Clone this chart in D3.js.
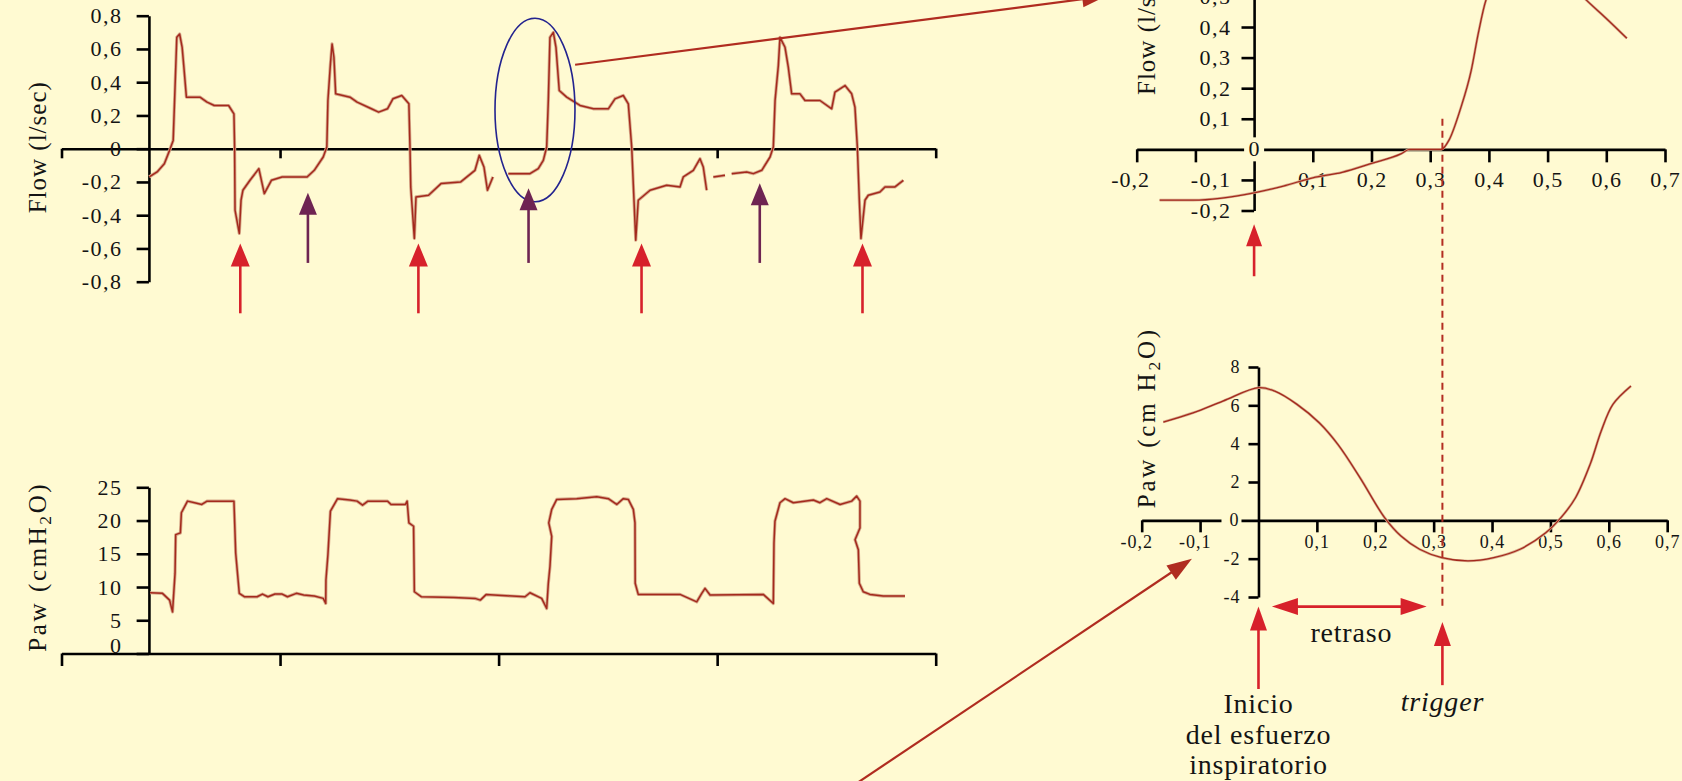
<!DOCTYPE html>
<html>
<head>
<meta charset="utf-8">
<script src="https://cdn.jsdelivr.net/npm/d3@7"></script>
<style>
  body { margin: 0; background: #fffad2; }
  svg { display: block; }
</style>
</head>
<body>
<script>
// curvas (tiempo en s)
const flowTime = [0.803, 0.875, 0.941, 0.989, 1.022, 1.039, 1.055, 1.081, 1.104, 1.120, 1.143, 1.267, 1.332, 1.398, 1.529, 1.578, 1.584, 1.588, 1.627, 1.643, 1.660, 1.725, 1.806, 1.856, 1.921, 2.018, 2.247, 2.313, 2.395, 2.428, 2.438, 2.461, 2.476, 2.493, 2.509, 2.640, 2.705, 2.836, 2.902, 2.983, 3.033, 3.114, 3.179, 3.189, 3.196, 3.229, 3.244, 3.359, 3.473, 3.653, 3.784, 3.823, 3.866, 3.898, 3.948,
  4.0,
  4.089, 4.287, 4.363, 4.409, 4.440, 4.455, 4.470, 4.501, 4.525, 4.555, 4.623, 4.745, 4.867, 5.004, 5.065, 5.141, 5.187, 5.218, 5.239, 5.255, 5.278, 5.386, 5.538, 5.660, 5.690, 5.782, 5.843, 5.873, 5.904,
  5.93, 5.965, 6.072, 6.10,
  6.133, 6.270, 6.331, 6.408, 6.484, 6.514, 6.530, 6.560, 6.575, 6.621, 6.651, 6.682, 6.758, 6.804, 6.941, 7.048, 7.078, 7.170, 7.231, 7.261, 7.283, 7.301, 7.316, 7.353, 7.383, 7.490, 7.536, 7.627, 7.704];
const flowValue = [-0.17, -0.14, -0.09, -0.01, 0.05, 0.37, 0.67, 0.69, 0.61, 0.49, 0.31, 0.31, 0.28, 0.26, 0.26, 0.21, 0.01, -0.37, -0.51, -0.31, -0.25, -0.19, -0.12, -0.27, -0.19, -0.17, -0.17, -0.13, -0.05, 0.01, 0.29, 0.51, 0.63, 0.55, 0.33, 0.31, 0.28, 0.24, 0.22, 0.24, 0.30, 0.32, 0.27, 0.01, -0.23, -0.54, -0.29, -0.28, -0.21, -0.20, -0.13, -0.04, -0.11, -0.25, -0.17,
  null,
  -0.15, -0.15, -0.12, -0.07, 0.01, 0.29, 0.67, 0.70, 0.61, 0.35, 0.31, 0.26, 0.24, 0.24, 0.30, 0.32, 0.27, 0.01, -0.31, -0.55, -0.31, -0.25, -0.22, -0.23, -0.17, -0.13, -0.06, -0.11, -0.25,
  null, -0.17, -0.16, null,
  -0.15, -0.14, -0.15, -0.13, -0.05, 0.01, 0.29, 0.50, 0.67, 0.61, 0.49, 0.33, 0.33, 0.29, 0.29, 0.24, 0.34, 0.38, 0.33, 0.25, 0.01, -0.31, -0.54, -0.31, -0.28, -0.26, -0.23, -0.23, -0.19];

const pawTime = [0.810, 0.924, 0.989, 1.016, 1.039, 1.045, 1.088, 1.097, 1.153, 1.218, 1.284, 1.332, 1.578, 1.594, 1.627, 1.676, 1.790, 1.839, 1.889, 1.954, 2.019, 2.068, 2.150, 2.216, 2.313, 2.395, 2.418, 2.420, 2.438, 2.461, 2.526, 2.640, 2.705, 2.755, 2.804, 2.983, 3.016, 3.147, 3.163, 3.179, 3.222, 3.229, 3.294, 3.588, 3.784, 3.833, 3.885, 4.242, 4.287, 4.394, 4.440, 4.455, 4.470, 4.486, 4.459, 4.486, 4.532, 4.715, 4.898, 5.004, 5.081, 5.141, 5.187, 5.233, 5.248, 5.250, 5.278, 5.660, 5.813, 5.859, 5.889, 5.935, 6.422, 6.514, 6.520, 6.529, 6.575, 6.621, 6.697, 6.880, 6.941, 7.003, 7.125, 7.231, 7.277, 7.307, 7.307, 7.262, 7.292, 7.301, 7.337, 7.399, 7.520, 7.719];
const pawValue = [9.14, 9.05, 8.03, 6.26, 12.08, 17.88, 18.14, 21.17, 22.92, 22.68, 22.42, 22.92, 22.92, 15.11, 9.05, 8.53, 8.53, 8.94, 8.53, 8.94, 8.94, 8.53, 9.05, 8.79, 8.64, 8.29, 7.53, 11.06, 14.85, 21.41, 23.29, 23.08, 22.92, 22.32, 22.92, 22.92, 22.42, 22.42, 22.92, 19.65, 19.14, 9.29, 8.53, 8.44, 8.29, 8.03, 8.86, 8.53, 9.14, 8.29, 6.77, 10.56, 13.08, 17.62, 19.65, 21.67, 23.18, 23.29, 23.59, 23.29, 22.42, 23.29, 23.18, 21.67, 19.65, 10.56, 8.89, 8.89, 7.77, 9.05, 9.80, 8.79, 8.89, 7.53, 16.62, 19.89, 22.68, 23.29, 22.68, 23.08, 22.68, 23.29, 22.42, 22.92, 23.68, 22.92, 18.89, 17.12, 15.61, 10.56, 9.29, 8.89, 8.64, 8.64];

const zoomFlowTime = [-0.161, -0.104, 0, 0.05, 0.1, 0.15, 0.2, 0.25, 0.265, 0.319, 0.332, 0.351, 0.370, 0.382, 0.395, 0.42, 0.45, 0.48, 0.52, 0.566, 0.60, 0.635];
const zoomFlowValue = [-0.166, -0.166, -0.142, -0.12, -0.093, -0.075, -0.046, -0.015, 0, 0, 0.03, 0.129, 0.259, 0.38, 0.488, 0.56, 0.60, 0.61, 0.58, 0.488, 0.428, 0.363];

const zoomPawTime = [-0.163, -0.112, -0.061, 0, 0.028, 0.066, 0.104, 0.136, 0.174, 0.216, 0.244, 0.276, 0.314, 0.359, 0.403, 0.448, 0.492, 0.518, 0.543, 0.568, 0.587, 0.607, 0.638];
const zoomPawValue = [5.13, 5.61, 6.22, 6.92, 6.74, 6.05, 5.09, 3.96, 2.22, 0.14, -0.82, -1.51, -1.95, -2.12, -1.95, -1.51, -0.65, 0.14, 1.18, 2.92, 4.66, 6.05, 7.01];

const redArrowTimes = [1.636, 3.266, 5.308, 7.330];
const purpleArrowTimes = [2.255, 4.274, 6.390];
const purpleArrowTips = [-0.265, -0.238, -0.208];
const ellipseCenter = [4.333, 0.233];
const ellipseRadius = [0.366, 0.552];
const effortTime = 0;
const triggerTime = 0.315;

const flowTicks = [-0.8, -0.6, -0.4, -0.2, 0, 0.2, 0.4, 0.6, 0.8];
const pawTicks = [0, 5, 10, 15, 20, 25];
const timeTicksTop = [0, 2, 6, 8];
const timeTicksBottom = [0, 2, 4, 6, 8];
const zoomTimeTicks = [-0.2, -0.1, 0.1, 0.2, 0.3, 0.4, 0.5, 0.6, 0.7];
const zoomFlowTicks = [-0.2, -0.1, 0.1, 0.2, 0.3, 0.4, 0.5];
const zoomPawTicks = [-4, -2, 2, 4, 6, 8];

const W = 1682, H = 781;
const bg = "#fffad2";
const serif = "'Liberation Serif', 'DejaVu Serif', serif";
const waveDark = "#a3291d", waveLight = "#d8ab8c";
const red = "#d7212b", purple = "#6e2452", leader = "#b02c20";

const fmt = d => d === 0 ? "0" : d.toFixed(1).replace(".", ",");

const svg = d3.select("body").append("svg")
  .attr("width", W)
  .attr("height", H);

svg.append("rect").attr("width", W).attr("height", H).attr("fill", bg);

const xTime = d3.scaleLinear().domain([0, 8]).range([61.5, 935.7]);
const yFlow = d3.scaleLinear().domain([-0.8, 0.8]).range([281.7, 15.7]);
const yPaw = d3.scaleLinear().domain([0, 25]).range([653.5, 487.3]);
const xZoomF = d3.scaleLinear().domain([-0.2, 0.7]).range([1136.7, 1665]);
const yZoomF = d3.scaleLinear().domain([-0.2, 0.55]).range([210.5, -18.85]);
const xZoomP = d3.scaleLinear().domain([-0.2, 0.7]).range([1141.7, 1667.2]);
const yZoomP = d3.scaleLinear().domain([-4, 8]).range([597, 367]);

const axisX0 = xTime(0.8);

function styleAxis(g, size, spacing) {
  g.attr("font-family", serif).attr("font-size", size);
  g.selectAll("path, line").attr("stroke", "#000").attr("stroke-width", 2.6);
  g.selectAll("text").attr("fill", "#141414").attr("letter-spacing", spacing);
}

// ---- flujo (arriba izquierda)
const gFx = svg.append("g")
  .attr("transform", "translate(0," + yFlow(0) + ")")
  .call(d3.axisBottom(xTime).tickValues(timeTicksTop).tickSize(9.6).tickSizeOuter(0).tickFormat(""));
styleAxis(gFx, 22, 1);

const gFy = svg.append("g")
  .attr("transform", "translate(" + axisX0 + ",0)")
  .call(d3.axisLeft(yFlow).tickValues(flowTicks).tickSize(12.3).tickSizeOuter(0).tickPadding(14).tickFormat(fmt));
styleAxis(gFy, 22, 1.5);

// ---- presion (abajo izquierda)
const gPx = svg.append("g")
  .attr("transform", "translate(0," + yPaw(0) + ")")
  .call(d3.axisBottom(xTime).tickValues(timeTicksBottom).tickSize(12.5).tickSizeOuter(0).tickFormat(""));
styleAxis(gPx, 22, 1);

const gPy = svg.append("g")
  .attr("transform", "translate(" + axisX0 + ",0)")
  .call(d3.axisLeft(yPaw).tickValues(pawTicks).tickSize(12.3).tickSizeOuter(0).tickPadding(14).tickFormat(d => String(d)));
styleAxis(gPy, 22, 1.5);
gPy.selectAll(".tick text").filter(d => d === 0).attr("y", -8);

// ---- flujo ampliado (arriba derecha)
const gZFx = svg.append("g")
  .attr("transform", "translate(0," + yZoomF(0) + ")")
  .call(d3.axisBottom(xZoomF).tickValues(zoomTimeTicks).tickSize(13).tickSizeOuter(0).tickPadding(9)
    .tickFormat(d => d === -0.1 ? "" : fmt(d)));
styleAxis(gZFx, 22, 1);
gZFx.selectAll(".tick text").filter(d => d < 0).attr("dx", "-0.3em");

const gZFy = svg.append("g")
  .attr("transform", "translate(" + xZoomF(0) + ",0)")
  .call(d3.axisLeft(yZoomF).tickValues(zoomFlowTicks).tickSize(12.6).tickSizeOuter(0).tickPadding(10).tickFormat(fmt));
styleAxis(gZFy, 22, 1.5);

svg.append("rect")
  .attr("x", xZoomF(0) - 10).attr("y", yZoomF(0) - 12)
  .attr("width", 20).attr("height", 24)
  .attr("fill", bg);
svg.append("text")
  .attr("x", xZoomF(0)).attr("y", yZoomF(0))
  .attr("dy", "0.32em")
  .attr("text-anchor", "middle")
  .attr("font-family", serif).attr("font-size", 22).attr("fill", "#141414")
  .text("0");

// ---- presion ampliada (abajo derecha)
const gZPx = svg.append("g")
  .attr("transform", "translate(0," + yZoomP(0) + ")")
  .call(d3.axisBottom(xZoomP).tickValues(zoomTimeTicks).tickSize(12).tickSizeOuter(0).tickPadding(3).tickFormat(fmt));
styleAxis(gZPx, 18, 1);
gZPx.selectAll(".tick text").filter(d => d < 0).attr("dx", "-0.3em");

const gZPy = svg.append("g")
  .attr("transform", "translate(" + xZoomP(0) + ",0)")
  .call(d3.axisLeft(yZoomP).tickValues(zoomPawTicks).tickSize(10).tickSizeOuter(0).tickPadding(8).tickFormat(d => String(d)));
styleAxis(gZPy, 18, 1);

svg.append("rect")
  .attr("x", xZoomP(0) - 37).attr("y", yZoomP(0) - 9)
  .attr("width", 20).attr("height", 18)
  .attr("fill", bg);
svg.append("text")
  .attr("x", xZoomP(0) - 20).attr("y", yZoomP(0))
  .attr("dy", "0.32em")
  .attr("text-anchor", "end")
  .attr("font-family", serif).attr("font-size", 18).attr("fill", "#141414")
  .text("0");

// ---- titulos de eje
function axisTitle(x, y, parts, size, spacing) {
  const t = svg.append("text")
    .attr("transform", "translate(" + x + "," + y + ") rotate(-90)")
    .attr("font-family", serif).attr("font-size", size)
    .attr("letter-spacing", spacing)
    .attr("fill", "#141414");
  parts.forEach(p => {
    const s = t.append("tspan").text(p.text);
    if (p.sub) s.attr("font-size", size * 0.7).attr("dy", 5);
    if (p.back) s.attr("dy", -5);
  });
}
axisTitle(46, 213.3, [{ text: "Flow (l/sec)" }], 25, 1);
axisTitle(46, 651.7, [{ text: "Paw (cmH" }, { text: "2", sub: true }, { text: "O)", back: true }], 25, 2.6);
axisTitle(1155, 95, [{ text: "Flow (l/sec)" }], 25, 1);
axisTitle(1155, 508.3, [{ text: "Paw (cm H" }, { text: "2", sub: true }, { text: "O)", back: true }], 25, 2.8);

// ---- curvas
function drawWave(data, line, under, over) {
  svg.append("path").datum(data)
    .attr("d", line).attr("fill", "none")
    .attr("stroke", waveLight).attr("stroke-width", under)
    .attr("stroke-linejoin", "round");
  svg.append("path").datum(data)
    .attr("d", line).attr("fill", "none")
    .attr("stroke", waveDark).attr("stroke-width", over)
    .attr("stroke-linejoin", "round");
}

const flowData = flowTime.map((t, i) => [t, flowValue[i]]);
drawWave(flowData, d3.line().defined(d => d[1] !== null).x(d => xTime(d[0])).y(d => yFlow(d[1])), 3.2, 1.5);

const pawData = pawTime.map((t, i) => [t, pawValue[i]]);
drawWave(pawData, d3.line().x(d => xTime(d[0])).y(d => yPaw(d[1])), 3.2, 1.5);

const zoomFlowData = zoomFlowTime.map((t, i) => [t, zoomFlowValue[i]]);
drawWave(zoomFlowData, d3.line().curve(d3.curveMonotoneX).x(d => xZoomF(d[0])).y(d => yZoomF(d[1])), 2.6, 1.3);

const zoomPawData = zoomPawTime.map((t, i) => [t, zoomPawValue[i]]);
drawWave(zoomPawData, d3.line().curve(d3.curveCatmullRom).x(d => xZoomP(d[0])).y(d => yZoomP(d[1])), 2.6, 1.3);

// ---- elipse
svg.append("ellipse")
  .attr("cx", xTime(ellipseCenter[0]))
  .attr("cy", yFlow(ellipseCenter[1]))
  .attr("rx", xTime(ellipseCenter[0] + ellipseRadius[0]) - xTime(ellipseCenter[0]))
  .attr("ry", yFlow(ellipseCenter[1]) - yFlow(ellipseCenter[1] + ellipseRadius[1]))
  .attr("fill", "none")
  .attr("stroke", "#23238f")
  .attr("stroke-width", 1.6);

// ---- flechas
function arrowHead(x, y, a, len, w, color) {
  const bx = x - len * Math.cos(a), by = y - len * Math.sin(a);
  const px = Math.sin(a) * w / 2, py = -Math.cos(a) * w / 2;
  svg.append("polygon")
    .attr("points", [[x, y], [bx + px, by + py], [bx - px, by - py]].join(" "))
    .attr("fill", color);
  return [bx, by];
}

function arrow(x1, y1, x2, y2, color, width, len, w) {
  const a = Math.atan2(y2 - y1, x2 - x1);
  const b = arrowHead(x2, y2, a, len, w, color);
  svg.append("line")
    .attr("x1", x1).attr("y1", y1)
    .attr("x2", b[0] + Math.cos(a) * 2).attr("y2", b[1] + Math.sin(a) * 2)
    .attr("stroke", color).attr("stroke-width", width);
}

function doubleArrow(x1, x2, y, color, width, len, w) {
  const b1 = arrowHead(x1, y, Math.PI, len, w, color);
  const b2 = arrowHead(x2, y, 0, len, w, color);
  svg.append("line")
    .attr("x1", b1[0] - 2).attr("y1", y)
    .attr("x2", b2[0] + 2).attr("y2", y)
    .attr("stroke", color).attr("stroke-width", width);
}

redArrowTimes.forEach(t => {
  arrow(xTime(t), yFlow(-0.99), xTime(t), yFlow(-0.57), red, 2.6, 23, 19);
});
purpleArrowTimes.forEach((t, i) => {
  arrow(xTime(t), yFlow(-0.687), xTime(t), yFlow(purpleArrowTips[i]), purple, 2.6, 22, 18);
});

arrow(xZoomF(effortTime), yZoomF(-0.415), xZoomF(effortTime), yZoomF(-0.245), red, 2.6, 22, 16);

// linea de disparo
svg.append("line")
  .attr("x1", xZoomP(triggerTime)).attr("y1", yZoomF(0.1))
  .attr("x2", xZoomP(triggerTime)).attr("y2", yZoomP(-4.6))
  .attr("stroke", "#b32d22")
  .attr("stroke-width", 2)
  .attr("stroke-dasharray", "7,5");

arrow(xZoomP(effortTime), yZoomP(-8.8), xZoomP(effortTime), yZoomP(-4.5), red, 2.6, 24, 17);
arrow(xZoomP(triggerTime), yZoomP(-8.6), xZoomP(triggerTime), yZoomP(-5.3), red, 2.6, 24, 17);
doubleArrow(xZoomP(0.023), xZoomP(0.288), yZoomP(-4.5), red, 2.6, 26, 17);

// lineas de enlace
arrow(xTime(4.70), yFlow(0.505), xZoomF(-0.252), yZoomF(0.501), leader, 2.2, 24, 16);
arrow(xTime(7.27), yPaw(-19.6), xZoomP(-0.114), yZoomP(-2.0), leader, 2.2, 25, 17);

// ---- textos
const note = (x, y, txt, italic) => svg.append("text")
  .attr("x", x).attr("y", y)
  .attr("text-anchor", "middle")
  .attr("font-family", serif)
  .attr("font-size", 28)
  .attr("letter-spacing", 0.8)
  .attr("font-style", italic ? "italic" : "normal")
  .attr("fill", "#141414")
  .text(txt);

note(xZoomP(0.159), 641.7, "retraso");
note(xZoomP(effortTime), 713, "Inicio");
note(xZoomP(effortTime), 743.5, "del esfuerzo");
note(xZoomP(effortTime), 773.5, "inspiratorio");
note(xZoomP(triggerTime), 711, "trigger", true);
</script>
</body>
</html>
